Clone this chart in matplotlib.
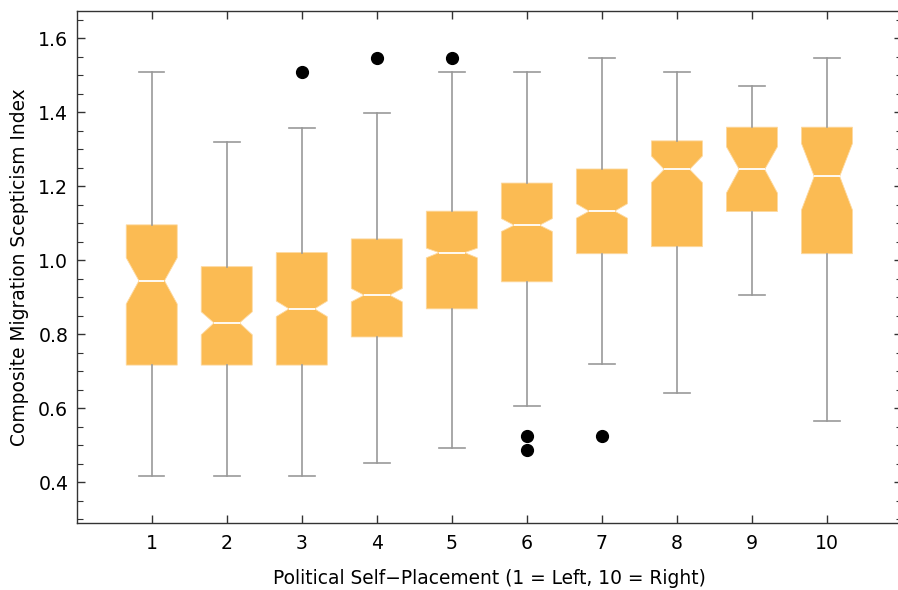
import matplotlib
matplotlib.use("Agg")
import matplotlib.pyplot as plt
from matplotlib.ticker import MultipleLocator, AutoMinorLocator

plt.rcParams['font.family'] = ['DejaVu Sans']

categories = [1, 2, 3, 4, 5, 6, 7, 8, 9, 10]
medians = [0.944, 0.830, 0.868, 0.905, 1.020, 1.094, 1.132, 1.245, 1.245, 1.226]
q1 = [0.716, 0.716, 0.716, 0.792, 0.868, 0.941, 1.017, 1.036, 1.131, 1.017]
q3 = [1.095, 0.982, 1.020, 1.057, 1.132, 1.208, 1.246, 1.322, 1.359, 1.359]
whisk_lo = [0.415, 0.415, 0.415, 0.451, 0.492, 0.605, 0.719, 0.641, 0.906, 0.566]
whisk_hi = [1.507, 1.319, 1.357, 1.396, 1.509, 1.507, 1.546, 1.507, 1.470, 1.546]
notch_lo = [0.881, 0.798, 0.847, 0.887, 1.006, 1.077, 1.113, 1.209, 1.181, 1.135]
notch_hi = [1.006, 0.860, 0.889, 0.923, 1.032, 1.112, 1.152, 1.281, 1.306, 1.315]
outliers = [[], [], [1.507], [1.545], [1.545], [0.524, 0.486], [0.524], [], [], []]

stats = []
for i in range(len(categories)):
    stats.append(dict(med=medians[i], q1=q1[i], q3=q3[i], whislo=whisk_lo[i],
                      whishi=whisk_hi[i], cilo=notch_lo[i], cihi=notch_hi[i],
                      fliers=outliers[i], label=str(categories[i])))

fig = plt.figure(figsize=(8.98, 5.90), dpi=100)
ax = fig.add_axes([76.7 / 898, 67.3 / 590, (902 - 76.7) / 898, (579 - 67.3) / 590])

fill = '#FBBB53'
wcol = '#999999'
ax.bxp(stats, positions=categories, widths=0.68, shownotches=True, patch_artist=True,
       boxprops=dict(facecolor=fill, edgecolor='#FDD9A0', linewidth=0.6),
       medianprops=dict(color='white', linewidth=1.3),
       whiskerprops=dict(color=wcol, linewidth=1.2),
       capprops=dict(color=wcol, linewidth=1.2),
       flierprops=dict(marker='o', markerfacecolor='black', markeredgecolor='black',
                       markersize=8.5, linestyle='none'))

ax.set_xlim(0, 11)
ax.set_ylim(0.29, 1.673)
ax.set_xticks(categories)
ax.set_xticklabels([str(c) for c in categories])
ax.yaxis.set_major_locator(MultipleLocator(0.2))
ax.yaxis.set_minor_locator(AutoMinorLocator(4))
ax.yaxis.set_major_formatter(matplotlib.ticker.FormatStrFormatter('%.1f'))

ax.tick_params(axis='both', which='major', direction='in', length=6, width=1,
               labelsize=13.6, top=True, right=True, color='#333333')
ax.tick_params(axis='y', which='minor', direction='in', length=4, width=0.8,
               right=True, color='#333333')
ax.tick_params(axis='x', which='major', pad=8)
ax.tick_params(axis='y', which='major', pad=6)
for s in ['left', 'bottom', 'top']:
    ax.spines[s].set_linewidth(1.0)
    ax.spines[s].set_color('#333333')
ax.spines['right'].set_visible(False)

ax.set_xlabel('Political Self\u2212Placement (1 = Left, 10 = Right)', fontsize=13.4, labelpad=12)
ax.set_ylabel('Composite Migration Scepticism Index', fontsize=13.4, labelpad=7)

fig.savefig('out.png', dpi=100)
